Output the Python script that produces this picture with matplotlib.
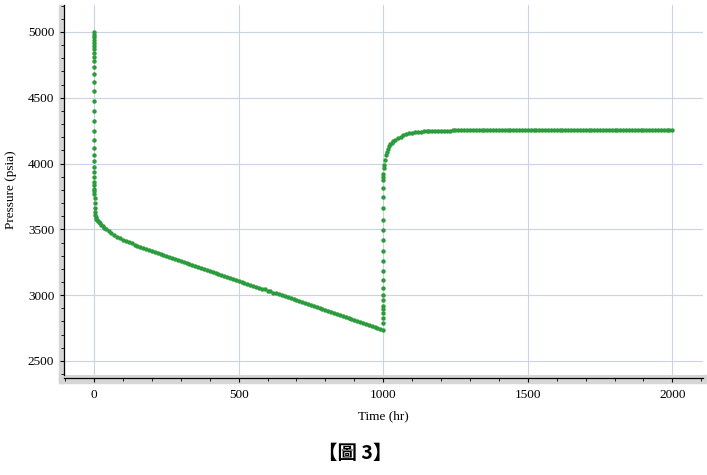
import matplotlib
matplotlib.use("Agg")
import matplotlib.pyplot as plt
from matplotlib.patches import Rectangle
from matplotlib.ticker import MultipleLocator

# drawdown: early time (all near t=0), bend, then the straight decline to shut-in
dd_time = [0, 0.001, 0.002, 0.003, 0.004, 0.005, 0.006, 0.008, 0.01, 0.012,
           0.015, 0.02, 0.025, 0.03, 0.04, 0.05, 0.06, 0.08, 0.1, 0.12,
           0.15, 0.2, 0.25, 0.3, 0.4, 0.5, 0.6, 0.8, 1, 1.3,
           1.7, 2.2, 2.8, 3.5, 4.5, 6, 8, 10, 13, 16,
           20, 25, 30, 35, 40, 50, 60, 70, 80, 90,
           100, 110, 120, 130, 140, 150, 160, 170, 180, 190,
           200, 210, 220, 230, 240, 250, 260, 270, 280, 290,
           300, 310, 320, 330, 340, 350, 360, 370, 380, 390,
           400, 410, 420, 430, 440, 450, 460, 470, 480, 490,
           500, 510, 520, 530, 540, 550, 560, 570, 580, 590,
           600, 610, 620, 630, 640, 650, 660, 670, 680, 690,
           700, 710, 720, 730, 740, 750, 760, 770, 780, 790,
           800, 810, 820, 830, 840, 850, 860, 870, 880, 890,
           900, 910, 920, 930, 940, 950, 960, 970, 980, 990,
           1000]
dd_pres = [5000, 4977, 4960, 4939, 4919, 4896, 4871, 4843, 4812, 4780,
           4736, 4681, 4620, 4552, 4478, 4400, 4321, 4250, 4179, 4121,
           4068, 4017, 3976, 3936, 3896, 3858, 3835, 3810, 3790, 3765,
           3735, 3700, 3665, 3630, 3610, 3595, 3580, 3572, 3563, 3556,
           3549, 3535, 3522, 3512, 3503, 3488, 3472, 3456, 3442, 3431,
           3420, 3409, 3401, 3393, 3384, 3375, 3366, 3357, 3349, 3341,
           3333, 3326, 3319, 3312, 3304, 3297, 3290, 3282, 3275, 3267,
           3260, 3252, 3245, 3237, 3230, 3222, 3215, 3207, 3200, 3192,
           3185, 3177, 3170, 3162, 3155, 3147, 3140, 3132, 3125, 3117,
           3110, 3102, 3095, 3088, 3080, 3073, 3065, 3058, 3050, 3043,
           3035, 3028, 3020, 3013, 3005, 2998, 2990, 2983, 2975, 2968,
           2960, 2953, 2945, 2938, 2930, 2923, 2915, 2908, 2901, 2893,
           2886, 2878, 2871, 2863, 2856, 2848, 2841, 2833, 2826, 2818,
           2811, 2803, 2796, 2788, 2781, 2773, 2766, 2758, 2751, 2743,
           2736]

# build-up after shut-in at 1000 hr
bu_time = [1000.001, 1000.002, 1000.003, 1000.004, 1000.005, 1000.006, 1000.008, 1000.01, 1000.012, 1000.015,
           1000.02, 1000.025, 1000.03, 1000.04, 1000.05, 1000.06, 1000.08, 1000.1, 1000.15, 1000.2,
           1000.5, 1001.5, 1003, 1006, 1009, 1012, 1016, 1020, 1025, 1030,
           1035, 1040, 1050, 1060, 1070, 1080, 1090, 1100, 1110, 1120,
           1130, 1140, 1150, 1160, 1170, 1180, 1190, 1200, 1210, 1220,
           1230, 1240, 1250, 1260, 1270, 1280, 1290, 1300, 1310, 1320,
           1330, 1340, 1350, 1360, 1370, 1380, 1390, 1400, 1410, 1420,
           1430, 1440, 1450, 1460, 1470, 1480, 1490, 1500, 1510, 1520,
           1530, 1540, 1550, 1560, 1570, 1580, 1590, 1600, 1610, 1620,
           1630, 1640, 1650, 1660, 1670, 1680, 1690, 1700, 1710, 1720,
           1730, 1740, 1750, 1760, 1770, 1780, 1790, 1800, 1810, 1820,
           1830, 1840, 1850, 1860, 1870, 1880, 1890, 1900, 1910, 1920,
           1930, 1940, 1950, 1960, 1970, 1980, 1990, 2000]
bu_pres = [2786, 2824, 2862, 2893, 2918, 2963, 3001, 3052, 3115, 3186,
           3262, 3338, 3419, 3495, 3571, 3660, 3744, 3812, 3876, 3900,
           3921, 3964, 3990, 4027, 4062, 4090, 4112, 4130, 4146, 4158,
           4168, 4177, 4192, 4205, 4215, 4224, 4230, 4234, 4237, 4240,
           4242, 4244, 4245, 4246, 4247, 4248, 4249, 4250, 4250, 4251,
           4251, 4252, 4252, 4252, 4252, 4252, 4252, 4252, 4252, 4252,
           4252, 4252, 4252, 4252, 4252, 4252, 4252, 4252, 4252, 4252,
           4252, 4252, 4252, 4252, 4252, 4252, 4252, 4252, 4252, 4252,
           4252, 4252, 4252, 4252, 4252, 4252, 4252, 4252, 4252, 4252,
           4252, 4252, 4252, 4252, 4252, 4252, 4252, 4252, 4252, 4252,
           4252, 4252, 4252, 4252, 4252, 4252, 4252, 4252, 4252, 4252,
           4252, 4252, 4252, 4252, 4252, 4252, 4252, 4252, 4252, 4252,
           4252, 4252, 4252, 4252, 4252, 4252, 4252, 4252]

x_ticks = [0, 500, 1000, 1500, 2000]
y_ticks = [2500, 3000, 3500, 4000, 4500, 5000]

green = "#2b9c3b"
band = "#d6d6d6"
grid_col = "#c9d3e4"

plt.rcParams["font.family"] = ["Liberation Serif", "DejaVu Serif"]

W, H = 707, 475
fig = plt.figure(figsize=(W / 100, H / 100), dpi=100)
ax = fig.add_axes([64 / W, 1 - 375 / H, (703 - 64) / W, (375 - 5) / H])
ax.set_zorder(2)

# gray axis bands (left and bottom), drawn under the axes
fig.patches.append(Rectangle((59 / W, 1 - 383 / H), 5 / W, 378 / H,
                             transform=fig.transFigure, color=band, zorder=0))
fig.patches.append(Rectangle((59 / W, 1 - 383 / H), (W - 59) / W, 8 / H,
                             transform=fig.transFigure, color=band, zorder=0))

ax.plot(dd_time, dd_pres, "o", color=green, markersize=3.2, markeredgewidth=0, zorder=3)
ax.plot(bu_time, bu_pres, "o", color=green, markersize=3.2, markeredgewidth=0, zorder=3)

ax.set_xlim(-104, 2106)
ax.set_ylim(2393, 5205)
ax.set_xticks(x_ticks)
ax.set_yticks(y_ticks)
ax.xaxis.set_minor_locator(MultipleLocator(100))
ax.yaxis.set_minor_locator(MultipleLocator(100))
ax.grid(True, which="major", color=grid_col, linewidth=0.8)
ax.set_axisbelow(True)

for s in ["top", "right"]:
    ax.spines[s].set_visible(False)
ax.spines["bottom"].set_position(("outward", 1.8))
ax.spines["left"].set_linewidth(0.9)
ax.spines["bottom"].set_linewidth(0.9)

ax.tick_params(axis="both", which="major", direction="out", length=3, width=0.8,
               labelsize=9.5, colors="black")
ax.tick_params(axis="both", which="minor", direction="out", length=2, width=0.6)
ax.tick_params(axis="x", which="major", pad=5)
ax.tick_params(axis="y", which="major", pad=4)

ax.set_xlabel("Time (hr)", fontsize=9.5)
ax.xaxis.set_label_coords(0.5, -0.095)
ax.set_ylabel("Pressure (psia)", fontsize=9.5)
ax.yaxis.set_label_coords(-0.0735, 0.5)

fig.text(355 / W, 1 - 453 / H, "【圖 3】", ha="center", va="center", fontsize=14,
         fontweight="bold", family=["Noto Sans CJK TC", "DejaVu Sans"])

fig.savefig("out.png", dpi=100)
